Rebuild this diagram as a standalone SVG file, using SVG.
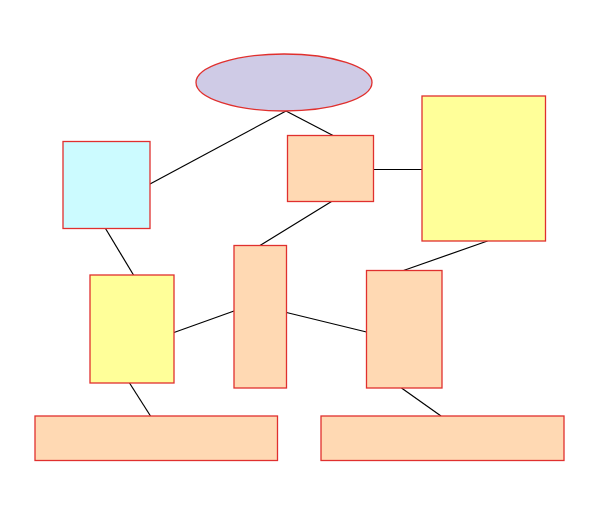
<svg xmlns="http://www.w3.org/2000/svg" width="600" height="514" viewBox="0 0 600 514">
<style>
.n{stroke:#e0302e;stroke-width:1.3}
.peach{fill:#ffd9b3}
.yellow{fill:#ffff99}
.blue{fill:#ccfbff}
.lav{fill:#cfcbe6}
.c line{stroke:#000;stroke-width:1.2}
</style>
<rect width="600" height="514" fill="#fff"/>
<g class="c" id="connectors">
<line x1="286" y1="111" x2="150" y2="184"/>
<line x1="286" y1="111" x2="333" y2="135.5"/>
<line x1="373.5" y1="169.5" x2="422" y2="169.5"/>
<line x1="331.5" y1="201.5" x2="260" y2="245.5"/>
<line x1="487.5" y1="241" x2="403.5" y2="270.5"/>
<line x1="105.5" y1="228.5" x2="133.5" y2="275"/>
<line x1="174" y1="332.5" x2="234" y2="311"/>
<line x1="286.5" y1="312.5" x2="366.5" y2="332"/>
<line x1="129.5" y1="383" x2="150.5" y2="416"/>
<line x1="401.5" y1="388" x2="441" y2="416"/>
</g>
<g id="top"><ellipse class="n lav" cx="284" cy="82.5" rx="88" ry="28.5"/></g>
<g id="blue"><rect class="n blue" x="63" y="141.5" width="87" height="87"/></g>
<g id="peachTop"><rect class="n peach" x="287.5" y="135.5" width="86" height="66"/></g>
<g id="yellowBig"><rect class="n yellow" x="422" y="96" width="123.5" height="145"/></g>
<g id="yellowSmall"><rect class="n yellow" x="90" y="275" width="84" height="108"/></g>
<g id="tall"><rect class="n peach" x="234" y="245.5" width="52.5" height="142.5"/></g>
<g id="peachRight"><rect class="n peach" x="366.5" y="270.5" width="75.5" height="117.5"/></g>
<g id="bottomLeft"><rect class="n peach" x="35" y="416" width="242.5" height="44.5"/></g>
<g id="bottomRight"><rect class="n peach" x="321" y="416" width="243" height="44.5"/></g>
</svg>
